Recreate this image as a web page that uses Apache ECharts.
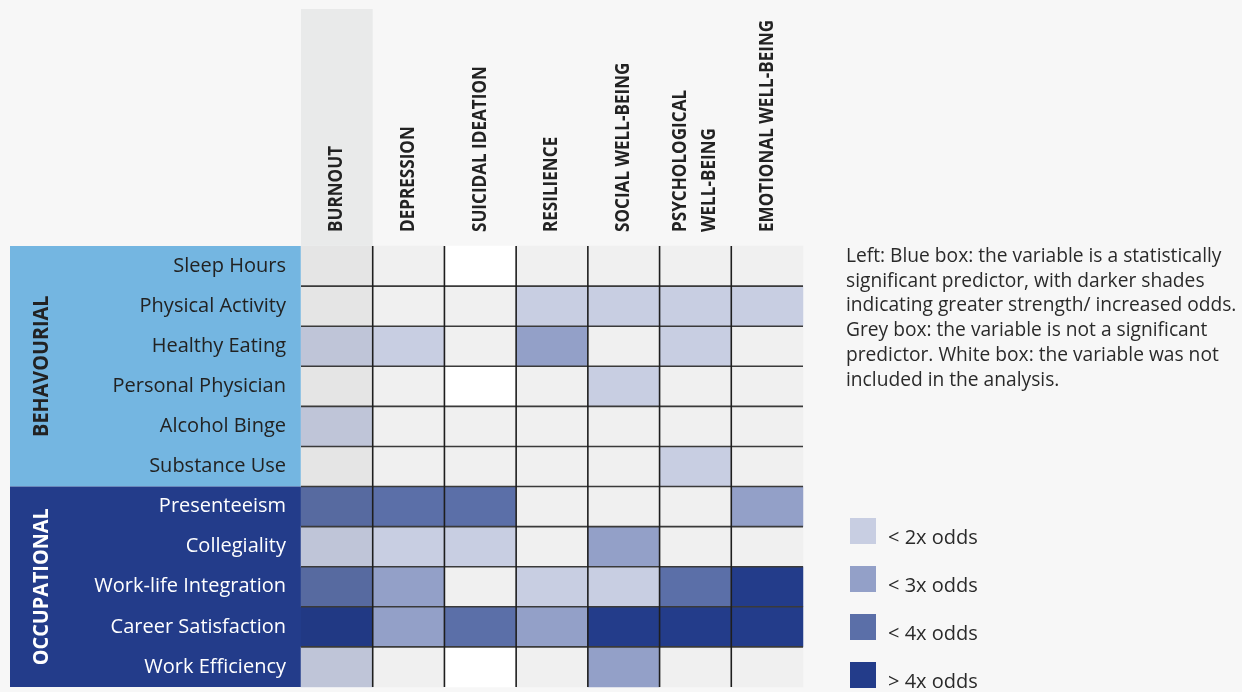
<!DOCTYPE html>
<html><head><meta charset="utf-8">
<script src="https://cdn.jsdelivr.net/npm/echarts@6/dist/echarts.min.js"></script>
<style>html,body{margin:0;padding:0;background:#f7f7f7}#c{width:1242px;height:692px}</style>
</head><body><div id="c"></div>
<script>
const columns = ['BURNOUT','DEPRESSION','SUICIDAL IDEATION','RESILIENCE','SOCIAL WELL-BEING','PSYCHOLOGICAL\nWELL-BEING','EMOTIONAL WELL-BEING'];
const rows = ['Sleep Hours','Physical Activity','Healthy Eating','Personal Physician','Alcohol Binge','Substance Use','Presenteeism','Collegiality','Work-life Integration','Career Satisfaction','Work Efficiency'];
const groups = ['BEHAVOURIAL','OCCUPATIONAL'];
const groupSizes = [6,5];
// 0 = not included (white), 1 = not significant (grey), 2 = <2x, 3 = <3x, 4 = <4x, 5 = >4x
const sleepHours        = [1,1,0,1,1,1,1];
const physicalActivity  = [1,1,1,2,2,2,2];
const healthyEating     = [2,2,1,3,1,2,1];
const personalPhysician = [1,1,0,1,2,1,1];
const alcoholBinge      = [2,1,1,1,1,1,1];
const substanceUse      = [1,1,1,1,1,2,1];
const presenteeism      = [4,4,4,1,1,1,3];
const collegiality      = [2,2,2,1,3,1,1];
const workLife          = [4,3,1,2,2,4,5];
const careerSatisfaction= [5,3,4,3,5,5,5];
const workEfficiency    = [2,1,0,1,3,1,1];
const legendLabels = ['< 2x odds','< 3x odds','< 4x odds','> 4x odds'];
const noteLines = ['Left: Blue box: the variable is a statistically','significant predictor, with darker shades','indicating greater strength/ increased odds.','Grey box: the variable is not a significant','predictor. White box: the variable was not','included in the analysis.'];

const levelColors = ['#ffffff','#f0f0f0','#c8cee2','#93a0c8','#5b6fa8','#233c8a'];
const table = [sleepHours,physicalActivity,healthyEating,personalPhysician,alcoholBinge,substanceUse,presenteeism,collegiality,workLife,careerSatisfaction,workEfficiency];
const data = [];
table.forEach((r,ri)=>r.forEach((v,ci)=>data.push([ci,ri,v])));

const G = {left:301, top:246, width:502, height:441};
const colW = G.width/columns.length, rowH = G.height/rows.length;
const FONT = '"Open Sans"';
const graphics = [];
// header highlight for first column
graphics.push({type:'rect', z:-10, shape:{x:G.left,y:9,width:colW,height:G.top-9}, style:{fill:'#e9eaea'}});
// group bands
let y0 = G.top;
const bandColors = ['#74b6e1','#233c8a'];
const bandText = ['#222222','#ffffff'];
groups.forEach((g,i)=>{
  const h = groupSizes[i]*rowH;
  graphics.push({type:'rect', z:-5, shape:{x:10,y:y0,width:G.left-10,height:h}, style:{fill:bandColors[i]}});
  graphics.push({type:'text', z:5, x:42, y:y0+h/2, rotation:Math.PI/2, scaleX:0.9,
    style:{text:g, fill:bandText[i], font:'bold 22px '+FONT, align:'center', verticalAlign:'middle'}});
  y0 += h;
});
// burnout column shading overlay
graphics.push({type:'rect', z:100, silent:true, shape:{x:G.left,y:G.top,width:colW,height:G.height}, style:{fill:'rgba(0,0,0,0.045)'}});
// inner grid lines only (no outer frame)
for (let i=1;i<columns.length;i++){
  const x = G.left + i*colW;
  graphics.push({type:'line', z:110, shape:{x1:x,y1:G.top,x2:x,y2:G.top+G.height}, style:{stroke:'#1e1e1e', lineWidth:1.6}});
}
for (let j=1;j<rows.length;j++){
  const y = G.top + j*rowH;
  graphics.push({type:'line', z:105, shape:{x1:G.left,y1:y,x2:G.left+G.width,y2:y}, style:{stroke:'#3a3a3a', lineWidth:1.6}});
}
// note text
graphics.push({type:'text', x:846, y:244, style:{text:noteLines.join('\n'), fill:'#2a2a2a', font:'19.2px '+FONT, lineHeight:24.8}});
// legend
legendLabels.forEach((t,i)=>{
  const ty = 518 + i*48;
  graphics.push({type:'rect', shape:{x:850,y:ty,width:26,height:26}, style:{fill:levelColors[i+2]}});
  graphics.push({type:'text', x:888, y:ty+20, style:{text:t, fill:'#2a2a2a', font:'20px '+FONT, verticalAlign:'middle'}});
});

const chart = echarts.init(document.getElementById('c'));
chart.setOption({
  backgroundColor:'#f7f7f7',
  animation:false,
  grid:{left:G.left, top:G.top, width:G.width, height:G.height},
  xAxis:{type:'category', data:columns, position:'top',
    axisLine:{show:false}, axisTick:{show:false}, splitLine:{show:false},
    axisLabel:{show:false}},
  yAxis:{type:'category', data:rows, inverse:true,
    axisLine:{show:false}, axisTick:{show:false}, splitLine:{show:false},
    axisLabel:{margin:15, fontFamily:'Open Sans', fontSize:20, interval:0, padding:[2,0,0,0],
      color:(v,i)=> (i < groupSizes[0] ? '#222222' : '#ffffff')}},
  visualMap:{show:false, type:'piecewise', dimension:2,
    pieces: levelColors.map((c,i)=>({value:i, color:c}))},
  series:[{type:'heatmap', data:data,
    itemStyle:{borderWidth:0},
    emphasis:{disabled:true}}],
  graphic: graphics
});
// column headers placed through the category scale, reading bottom-to-top
const headerGraphics = columns.map((c,i)=>{
  const p = chart.convertToPixel({xAxisIndex:0}, i);
  return {type:'text', z:20, x:p, y:G.top-14, rotation:Math.PI/2, scaleX:0.9,
    style:{text:c, fill:'#222222', font:'bold 19px '+FONT, align:'left', verticalAlign:'middle', lineHeight:29}};
});
chart.setOption({graphic: graphics.concat(headerGraphics)});
</script></body></html>
